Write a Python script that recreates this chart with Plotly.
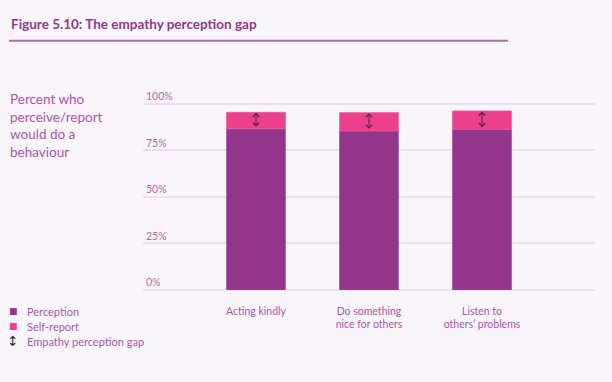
import plotly.graph_objects as go

categories = ["Acting kindly", "Do something nice for others", "Listen to others' problems"]
tick_labels = ["Acting kindly", "Do something<br>nice for others", "Listen to<br>others’ problems"]
perception = [86.6, 85.5, 86.4]
self_report = [95.5, 95.3, 96.2]
gap = [s - p for s, p in zip(self_report, perception)]

PURPLE = "#93358b"
PINK = "#ec3f8c"
TEXT = "#a855a8"
TICK = "#b266b2"
BG = "#f8f6fb"
FONT = "Lato, Noto Sans, sans-serif"

fig = go.Figure()
fig.add_trace(go.Bar(x=categories, y=perception, marker=dict(color=PURPLE, line=dict(color="#a24a9a", width=0.8)),
                     width=0.52, name="Perception", showlegend=False))
fig.add_trace(go.Bar(x=categories, y=gap, base=perception, marker=dict(color=PINK, line=dict(color="#f05a9c", width=0.8)),
                     width=0.52, name="Self-report", showlegend=False))

for c, p, s in zip(categories, perception, self_report):
    fig.add_annotation(x=c, y=s - 0.3, ax=c, ay=p + 0.3, xref="x", yref="y", axref="x", ayref="y",
                       showarrow=True, arrowside="end+start", arrowhead=4, arrowsize=1.2,
                       arrowwidth=1, arrowcolor="#5a2252", text="")

def px_x(px):
    return (px - 143) / 452

def px_y(py):
    return (290 - py) / (290 - 89.12)

# Title
fig.add_annotation(x=px_x(9), y=px_y(24), xref="paper", yref="paper", xanchor="left", yanchor="middle",
                   text="<b>Figure 5.10: The empathy perception gap</b>", showarrow=False,
                   font=dict(family=FONT, size=13.5, color="#93368c"))
fig.add_shape(type="line", xref="paper", yref="paper", x0=px_x(9), x1=px_x(508), y0=px_y(41), y1=px_y(41),
              line=dict(color="#b56bb5", width=2))

# Y title
fig.add_annotation(x=px_x(8), y=px_y(89), xref="paper", yref="paper", xanchor="left", yanchor="top", align="left",
                   text="Percent who<br>perceive/report<br>would do a<br>behaviour", showarrow=False,
                   font=dict(family=FONT, size=13.5, color=TEXT))

# Legend
legend_items = [("■", PURPLE, "Perception", 311), ("■", PINK, "Self-report", 326), ("↕", "#333333", "Empathy perception gap", 341)]
for sym, col, lab, y in legend_items:
    fig.add_annotation(x=px_x(13), y=px_y(y), xref="paper", yref="paper", xanchor="center", yanchor="middle",
                       text=sym, showarrow=False, font=dict(family="DejaVu Sans", size=9 if sym == "■" else 14, color=col))
    fig.add_annotation(x=px_x(25), y=px_y(y), xref="paper", yref="paper", xanchor="left", yanchor="middle",
                       text=lab, showarrow=False, font=dict(family=FONT, size=11, color=TEXT))

fig.update_layout(
    width=612, height=382,
    margin=dict(l=143, r=17, t=89.12, b=92),
    paper_bgcolor=BG, plot_bgcolor=BG,
    barmode="overlay",
    showlegend=False,
    font=dict(family=FONT, color=TEXT),
)
fig.update_xaxes(type="category", range=[-1, 3], tickvals=categories, ticktext=tick_labels,
                 tickfont=dict(family=FONT, size=10.5, color=TEXT), showgrid=False, showline=False,
                 ticks="", ticklen=0, ticklabelstandoff=13)
fig.update_yaxes(range=[0, 108], tickvals=[0, 25, 50, 75, 100], ticktext=["0%", "25%", "50%", "75%", "100%"],
                 ticklabelposition="inside top", tickfont=dict(family=FONT, size=10.5, color=TICK),
                 showgrid=True, gridcolor="#eadfea", gridwidth=1.5, zeroline=True, zerolinecolor="#eadfea",
                 zerolinewidth=1.5, showline=False)

fig.write_html("out.html", config={"displayModeBar": False},
               post_script="document.body.style.margin='0';document.body.style.background='#f8f6fb';document.body.style.overflow='hidden';")
